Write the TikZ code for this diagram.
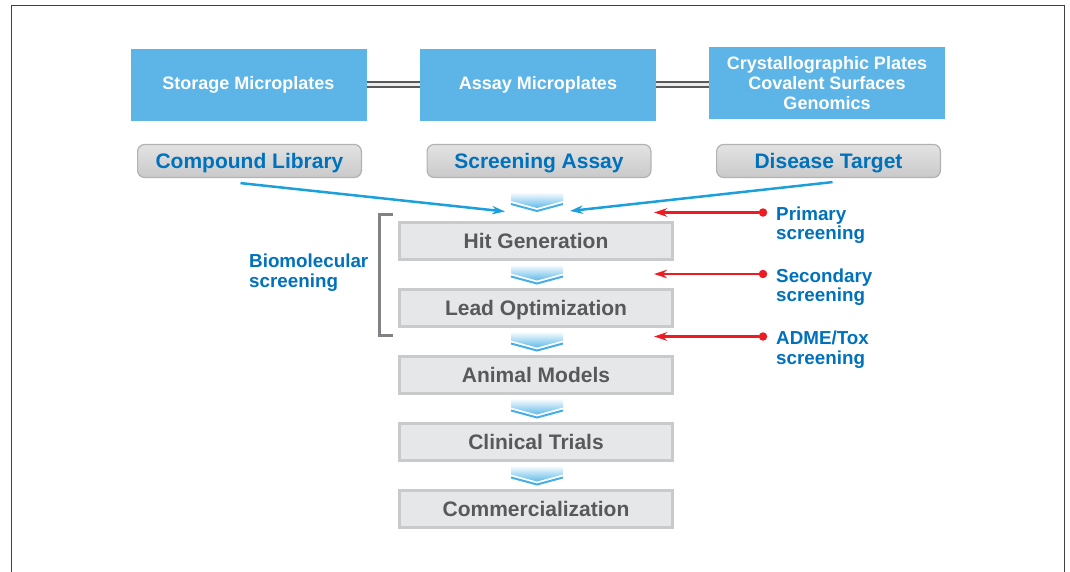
\documentclass[tikz,border=0pt]{standalone}
\usepackage{fontspec}
\setmainfont{Liberation Sans}
\usepackage{xcolor}
\usepackage{tikz}
\usetikzlibrary{shapes,arrows.meta,positioning,calc}

\definecolor{plateblue}{HTML}{5DB4E6}
\definecolor{textblue}{HTML}{0071BC}
\definecolor{linkblue}{HTML}{1BA0DC}
\definecolor{chevblue}{HTML}{45AEE6}
\definecolor{stagefill}{HTML}{E6E7E8}
\definecolor{stageline}{HTML}{C9CACB}
\definecolor{stagetext}{HTML}{58595B}
\definecolor{probered}{HTML}{ED1C24}
\definecolor{bracketgray}{HTML}{808285}
\definecolor{framegray}{HTML}{404040}

\begin{document}
\begin{tikzpicture}[
    x=1pt, y=-1pt,
    >={Stealth[length=13pt,width=8.5pt]},
    plate/.style = {fill=plateblue, text=white, minimum width=236pt, minimum height=72pt,
      align=center, font=\bfseries\fontsize{18}{20}\selectfont},
    pill/.style = {draw=gray!60, line width=1.2pt, rounded corners=7pt,
      top color=gray!22, middle color=white, bottom color=gray!42,
      text=textblue, minimum width=223.8pt, minimum height=33pt, text depth=0pt,
      font=\bfseries\fontsize{21}{24}\selectfont},
    stage/.style = {draw=stageline, fill=stagefill, line width=3pt, text=stagetext,
      minimum width=273pt, minimum height=37pt, text depth=0pt,
      font=\bfseries\fontsize{21}{24}\selectfont},
    note/.style = {text=textblue, align=left, anchor=north west, inner sep=0pt,
      font=\bfseries\fontsize{18.8}{19.5}\selectfont},
    dot/.style = {circle, fill=probered, inner sep=0pt, minimum size=8.5pt},
    pipe/.style = {draw=gray!70!black, double=gray!15, double distance=3pt, line width=2pt},
    feed/.style = {->, linkblue, line width=2.5pt},
    probe/.style = {->, probered, line width=2.8pt}
  ]
  \useasboundingbox (0,0) rectangle (1070,572);
  % 外框
  \draw[framegray, line width=1.2pt] (11.5,580) -- (11.5,5.5) -- (1064.5,5.5) -- (1064.5,580);

  % 微孔板
  \node[plate] (storage) at (248.5,85) {Storage Microplates};
  \node[plate] (assay) at (538,85) {Assay Microplates};
  \node[plate] (crystal) at (827,83.5) {Crystallographic Plates\\Covalent Surfaces\\Genomics};
  \draw[pipe] (storage) -- (assay);
  \draw[pipe] (assay.east) -- (assay.east -| crystal.west);

  % 输入
  \node[pill] (compound) at (249.5,161) {Compound Library};
  \node[pill] (screen) at (539,161) {Screening Assay};
  \node[pill] (disease) at (828.5,161) {Disease Target};
  \coordinate (f1) at (505,211.5);
  \coordinate (f2) at (570,211);
  \draw[feed] ([shift={(-9,5)}]compound.south) -- (f1);
  \draw[feed] ([shift={(4,4)}]disease.south) -- (f2);

  % 流程
  \node[stage] (hit) at (536,241) {Hit Generation};
  \node[stage] (lead) at (536,308) {Lead Optimization};
  \node[stage] (animal) at (536,375) {Animal Models};
  \node[stage] (clinical) at (536,442) {Clinical Trials};
  \node[stage] (commerce) at (536,509) {Commercialization};
  \foreach \cy in {202,274.5,341.5,408.5,475.5} {
    \begin{scope}[shift={(537,\cy)}]
      \shade[top color=white, bottom color=chevblue!85] (-26,-10) -- (26,-10) -- (26,-1) -- (0,6) -- (-26,-1) -- cycle;
      \draw[chevblue, line width=2pt] (-26,2) -- (0,9) -- (26,2);
    \end{scope}
  }

  % 生物分子筛选
  \draw[bracketgray, line width=3pt] (393,214) -- (379,214) -- (379,335) -- (393,335);
  \node[note] (biomol) at (249,254) {Biomolecular\\screening};

  % 筛选
  \node[note] (primary) at (776,206.5) {Primary\\screening};
  \node[note] (secondary) at (776,268.5) {Secondary\\screening};
  \node[note] (admetox) at (776,331) {ADME/Tox\\screening};
  \node[dot] (d1) at (763,212.5) {};
  \node[dot] (d2) at (763,274) {};
  \node[dot] (d3) at (763,336.5) {};
  \coordinate (t1) at (654,212.5);
  \coordinate (t2) at (654,274);
  \coordinate (t3) at (654,336.5);
  \draw[probe] (d1) -- (t1);
  \draw[probe] (d2) -- (t2);
  \draw[probe] (d3) -- (t3);
\end{tikzpicture}
\end{document}
